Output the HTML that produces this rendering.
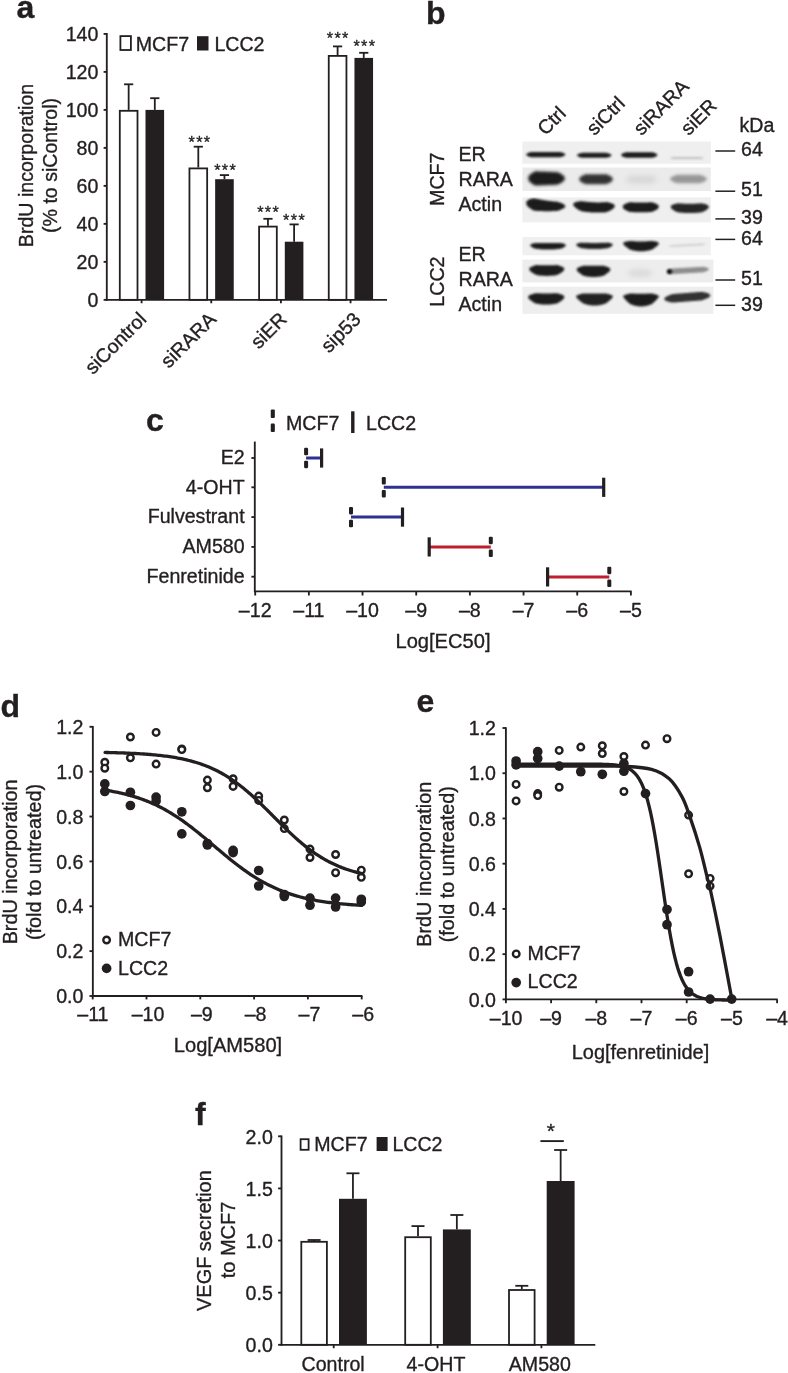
<!DOCTYPE html>
<html><head><meta charset="utf-8"><title>Figure</title>
<style>
html,body{margin:0;padding:0;background:#fff;}
body{width:788px;height:1373px;overflow:hidden;}
svg{display:block;will-change:transform;opacity:0.999;}
svg text{font-family:"Liberation Sans",sans-serif;fill:#231f20;stroke:#231f20;stroke-width:0.35px;stroke-linejoin:round;}
</style></head><body>
<svg width="788" height="1373" viewBox="0 0 788 1373">
<rect width="788" height="1373" fill="#ffffff"/>
<g id="pa">
<text x="16.50" y="18.00" font-size="32" text-anchor="start" font-weight="bold" >a</text>
<line x1="106.80" y1="33.10" x2="106.80" y2="300.65" stroke="#231f20" stroke-width="1.85" stroke-linecap="butt" />
<line x1="106.00" y1="299.85" x2="387.00" y2="299.85" stroke="#231f20" stroke-width="1.85" stroke-linecap="butt" />
<line x1="103.60" y1="299.85" x2="106.80" y2="299.85" stroke="#231f20" stroke-width="1.85" stroke-linecap="butt" />
<text x="98.40" y="306.85" font-size="19.6" text-anchor="end" >0</text>
<line x1="103.60" y1="261.86" x2="106.80" y2="261.86" stroke="#231f20" stroke-width="1.85" stroke-linecap="butt" />
<text x="98.40" y="268.86" font-size="19.6" text-anchor="end" >20</text>
<line x1="103.60" y1="223.86" x2="106.80" y2="223.86" stroke="#231f20" stroke-width="1.85" stroke-linecap="butt" />
<text x="98.40" y="230.86" font-size="19.6" text-anchor="end" >40</text>
<line x1="103.60" y1="185.87" x2="106.80" y2="185.87" stroke="#231f20" stroke-width="1.85" stroke-linecap="butt" />
<text x="98.40" y="192.87" font-size="19.6" text-anchor="end" >60</text>
<line x1="103.60" y1="147.88" x2="106.80" y2="147.88" stroke="#231f20" stroke-width="1.85" stroke-linecap="butt" />
<text x="98.40" y="154.88" font-size="19.6" text-anchor="end" >80</text>
<line x1="103.60" y1="109.89" x2="106.80" y2="109.89" stroke="#231f20" stroke-width="1.85" stroke-linecap="butt" />
<text x="98.40" y="116.89" font-size="19.6" text-anchor="end" >100</text>
<line x1="103.60" y1="71.89" x2="106.80" y2="71.89" stroke="#231f20" stroke-width="1.85" stroke-linecap="butt" />
<text x="98.40" y="78.89" font-size="19.6" text-anchor="end" >120</text>
<line x1="103.60" y1="33.90" x2="106.80" y2="33.90" stroke="#231f20" stroke-width="1.85" stroke-linecap="butt" />
<text x="98.40" y="40.90" font-size="19.6" text-anchor="end" >140</text>
<line x1="141.60" y1="299.85" x2="141.60" y2="303.25" stroke="#231f20" stroke-width="1.85" stroke-linecap="butt" />
<line x1="211.25" y1="299.85" x2="211.25" y2="303.25" stroke="#231f20" stroke-width="1.85" stroke-linecap="butt" />
<line x1="280.90" y1="299.85" x2="280.90" y2="303.25" stroke="#231f20" stroke-width="1.85" stroke-linecap="butt" />
<line x1="350.55" y1="299.85" x2="350.55" y2="303.25" stroke="#231f20" stroke-width="1.85" stroke-linecap="butt" />
<line x1="128.65" y1="84.30" x2="128.65" y2="109.90" stroke="#231f20" stroke-width="1.8" stroke-linecap="butt" />
<line x1="124.05" y1="84.30" x2="133.25" y2="84.30" stroke="#231f20" stroke-width="1.8" stroke-linecap="butt" />
<line x1="154.80" y1="98.20" x2="154.80" y2="109.90" stroke="#231f20" stroke-width="1.8" stroke-linecap="butt" />
<line x1="150.20" y1="98.20" x2="159.40" y2="98.20" stroke="#231f20" stroke-width="1.8" stroke-linecap="butt" />
<rect x="119.80" y="110.80" width="17.70" height="189.05" fill="white" stroke="#231f20" stroke-width="1.8" />
<rect x="145.50" y="109.90" width="18.60" height="189.95" fill="#231f20" />
<line x1="198.30" y1="146.70" x2="198.30" y2="167.50" stroke="#231f20" stroke-width="1.8" stroke-linecap="butt" />
<line x1="193.70" y1="146.70" x2="202.90" y2="146.70" stroke="#231f20" stroke-width="1.8" stroke-linecap="butt" />
<line x1="224.45" y1="175.10" x2="224.45" y2="179.20" stroke="#231f20" stroke-width="1.8" stroke-linecap="butt" />
<line x1="219.85" y1="175.10" x2="229.05" y2="175.10" stroke="#231f20" stroke-width="1.8" stroke-linecap="butt" />
<rect x="189.45" y="168.40" width="17.70" height="131.45" fill="white" stroke="#231f20" stroke-width="1.8" />
<rect x="215.15" y="179.20" width="18.60" height="120.65" fill="#231f20" />
<line x1="267.95" y1="218.80" x2="267.95" y2="225.70" stroke="#231f20" stroke-width="1.8" stroke-linecap="butt" />
<line x1="263.35" y1="218.80" x2="272.55" y2="218.80" stroke="#231f20" stroke-width="1.8" stroke-linecap="butt" />
<line x1="294.10" y1="224.40" x2="294.10" y2="241.70" stroke="#231f20" stroke-width="1.8" stroke-linecap="butt" />
<line x1="289.50" y1="224.40" x2="298.70" y2="224.40" stroke="#231f20" stroke-width="1.8" stroke-linecap="butt" />
<rect x="259.10" y="226.60" width="17.70" height="73.25" fill="white" stroke="#231f20" stroke-width="1.8" />
<rect x="284.80" y="241.70" width="18.60" height="58.15" fill="#231f20" />
<line x1="337.60" y1="46.40" x2="337.60" y2="55.00" stroke="#231f20" stroke-width="1.8" stroke-linecap="butt" />
<line x1="333.00" y1="46.40" x2="342.20" y2="46.40" stroke="#231f20" stroke-width="1.8" stroke-linecap="butt" />
<line x1="363.75" y1="52.80" x2="363.75" y2="57.90" stroke="#231f20" stroke-width="1.8" stroke-linecap="butt" />
<line x1="359.15" y1="52.80" x2="368.35" y2="52.80" stroke="#231f20" stroke-width="1.8" stroke-linecap="butt" />
<rect x="328.75" y="55.90" width="17.70" height="243.95" fill="white" stroke="#231f20" stroke-width="1.8" />
<rect x="354.45" y="57.90" width="18.60" height="241.95" fill="#231f20" />
<text x="200.00" y="147.60" font-size="16.2" text-anchor="middle" letter-spacing="1.35">***</text>
<text x="225.70" y="175.70" font-size="16.2" text-anchor="middle" letter-spacing="1.35">***</text>
<text x="268.70" y="218.30" font-size="16.2" text-anchor="middle" letter-spacing="1.35">***</text>
<text x="294.60" y="226.10" font-size="16.2" text-anchor="middle" letter-spacing="1.35">***</text>
<text x="338.30" y="43.80" font-size="16.2" text-anchor="middle" letter-spacing="1.35">***</text>
<text x="364.90" y="52.40" font-size="16.2" text-anchor="middle" letter-spacing="1.35">***</text>
<rect x="120.40" y="36.10" width="10.50" height="13.90" fill="white" stroke="#231f20" stroke-width="1.8" />
<text x="135.80" y="50.80" font-size="19.6" text-anchor="start" >MCF7</text>
<rect x="197.00" y="36.20" width="11.50" height="14.30" fill="#231f20" />
<text x="214.40" y="50.80" font-size="19.6" text-anchor="start" >LCC2</text>
<text x="32.50" y="165.50" font-size="19.6" text-anchor="middle" transform="rotate(-90 32.50 165.50)" >BrdU incorporation</text>
<text x="56.60" y="165.50" font-size="19.6" text-anchor="middle" transform="rotate(-90 56.60 165.50)" >(% to siControl)</text>
<text x="147.60" y="320.50" font-size="19.6" text-anchor="end" transform="rotate(-45 147.60 320.50)" >siControl</text>
<text x="217.25" y="320.50" font-size="19.6" text-anchor="end" transform="rotate(-45 217.25 320.50)" >siRARA</text>
<text x="287.90" y="320.50" font-size="19.6" text-anchor="end" transform="rotate(-45 287.90 320.50)" >siER</text>
<text x="362.05" y="320.50" font-size="19.6" text-anchor="end" transform="rotate(-45 362.05 320.50)" >sip53</text>
</g>
<g id="pb">
<text x="426.00" y="24.00" font-size="32" text-anchor="start" font-weight="bold" >b</text>
<defs><filter id="b1" filterUnits="userSpaceOnUse" x="510" y="130" width="215" height="195"><feGaussianBlur stdDeviation="1.1"/></filter><filter id="b2" filterUnits="userSpaceOnUse" x="510" y="130" width="215" height="195"><feGaussianBlur stdDeviation="1.8"/></filter><filter id="b3" filterUnits="userSpaceOnUse" x="510" y="130" width="215" height="195"><feGaussianBlur stdDeviation="2.6"/></filter></defs>
<rect x="522.40" y="141.50" width="188.40" height="22.30" fill="#efefef" />
<rect x="522.40" y="167.50" width="188.40" height="23.50" fill="#ebebeb" />
<rect x="522.40" y="197.30" width="188.40" height="25.10" fill="#efefef" />
<rect x="522.40" y="237.00" width="188.40" height="18.30" fill="#f0f0f0" />
<rect x="522.40" y="259.60" width="191.00" height="22.80" fill="#ededed" />
<rect x="522.40" y="286.70" width="191.00" height="27.10" fill="#eeeeee" />
<clipPath id="cb"><rect x="522.4" y="141.5" width="191.0" height="22.30000000000001"/><rect x="522.4" y="167.5" width="191.0" height="23.5"/><rect x="522.4" y="197.3" width="191.0" height="25.099999999999994"/><rect x="522.4" y="237.0" width="191.0" height="18.30000000000001"/><rect x="522.4" y="259.6" width="191.0" height="22.799999999999955"/><rect x="522.4" y="286.7" width="191.0" height="27.100000000000023"/></clipPath>
<g clip-path="url(#cb)">
<path d="M526.0 154.6 L527.1 153.4 L528.2 152.9 L529.3 152.5 L530.4 152.2 L531.5 151.9 L532.6 151.9 L533.7 151.9 L534.8 151.9 L535.9 151.9 L537.0 151.9 L538.1 151.9 L539.2 151.9 L540.3 151.9 L541.4 151.9 L542.5 151.9 L543.6 151.9 L544.7 151.9 L545.8 151.9 L546.8 151.9 L547.9 151.9 L549.0 151.9 L550.1 151.9 L551.2 151.9 L552.3 151.9 L553.4 151.9 L554.5 151.9 L555.6 151.9 L556.7 151.9 L557.8 151.9 L558.9 151.9 L560.0 151.9 L561.1 152.2 L562.2 152.5 L563.3 152.9 L564.4 153.4 L565.5 154.6 L565.5 154.6 L564.4 155.8 L563.3 156.3 L562.2 156.7 L561.1 157.0 L560.0 157.3 L558.9 157.3 L557.8 157.3 L556.7 157.3 L555.6 157.3 L554.5 157.3 L553.4 157.3 L552.3 157.3 L551.2 157.3 L550.1 157.3 L549.0 157.3 L547.9 157.3 L546.8 157.3 L545.8 157.3 L544.7 157.3 L543.6 157.3 L542.5 157.3 L541.4 157.3 L540.3 157.3 L539.2 157.3 L538.1 157.3 L537.0 157.3 L535.9 157.3 L534.8 157.3 L533.7 157.3 L532.6 157.3 L531.5 157.3 L530.4 157.0 L529.3 156.7 L528.2 156.3 L527.1 155.8 L526.0 154.6Z" fill="#1c1c1c" filter="url(#b1)" opacity="1.0"/>
<path d="M577.0 155.3 L578.0 154.2 L578.9 153.8 L579.9 153.4 L580.8 153.1 L581.8 152.9 L582.8 152.8 L583.7 152.8 L584.7 152.8 L585.6 152.8 L586.6 152.8 L587.5 152.8 L588.5 152.8 L589.5 152.8 L590.4 152.8 L591.4 152.8 L592.3 152.8 L593.3 152.8 L594.2 152.8 L595.2 152.8 L596.2 152.8 L597.1 152.8 L598.1 152.8 L599.0 152.8 L600.0 152.8 L601.0 152.8 L601.9 152.8 L602.9 152.8 L603.8 152.8 L604.8 152.8 L605.8 152.8 L606.7 152.9 L607.7 153.1 L608.6 153.4 L609.6 153.8 L610.5 154.2 L611.5 155.3 L611.5 155.3 L610.5 156.4 L609.6 156.8 L608.6 157.2 L607.7 157.5 L606.7 157.7 L605.8 157.8 L604.8 157.8 L603.8 157.8 L602.9 157.8 L601.9 157.8 L601.0 157.8 L600.0 157.8 L599.0 157.8 L598.1 157.8 L597.1 157.8 L596.2 157.8 L595.2 157.8 L594.2 157.8 L593.3 157.8 L592.3 157.8 L591.4 157.8 L590.4 157.8 L589.5 157.8 L588.5 157.8 L587.5 157.8 L586.6 157.8 L585.6 157.8 L584.7 157.8 L583.7 157.8 L582.8 157.8 L581.8 157.7 L580.8 157.5 L579.9 157.2 L578.9 156.8 L578.0 156.4 L577.0 155.3Z" fill="#1c1c1c" filter="url(#b1)" opacity="1.0"/>
<path d="M621.0 155.0 L622.0 153.8 L623.0 153.3 L624.0 152.9 L625.1 152.6 L626.1 152.3 L627.1 152.2 L628.1 152.2 L629.1 152.2 L630.1 152.2 L631.1 152.2 L632.2 152.2 L633.2 152.2 L634.2 152.2 L635.2 152.2 L636.2 152.2 L637.2 152.2 L638.2 152.2 L639.2 152.2 L640.3 152.2 L641.3 152.2 L642.3 152.2 L643.3 152.2 L644.3 152.2 L645.3 152.2 L646.3 152.2 L647.4 152.2 L648.4 152.2 L649.4 152.2 L650.4 152.2 L651.4 152.2 L652.4 152.3 L653.4 152.6 L654.5 152.9 L655.5 153.3 L656.5 153.8 L657.5 155.0 L657.5 155.0 L656.5 156.2 L655.5 156.7 L654.5 157.1 L653.4 157.4 L652.4 157.7 L651.4 157.8 L650.4 157.8 L649.4 157.8 L648.4 157.8 L647.4 157.8 L646.3 157.8 L645.3 157.8 L644.3 157.8 L643.3 157.8 L642.3 157.8 L641.3 157.8 L640.3 157.8 L639.2 157.8 L638.2 157.8 L637.2 157.8 L636.2 157.8 L635.2 157.8 L634.2 157.8 L633.2 157.8 L632.2 157.8 L631.1 157.8 L630.1 157.8 L629.1 157.8 L628.1 157.8 L627.1 157.8 L626.1 157.7 L625.1 157.4 L624.0 157.1 L623.0 156.7 L622.0 156.2 L621.0 155.0Z" fill="#1c1c1c" filter="url(#b1)" opacity="1.0"/>
<path d="M670.0 158.0 L670.9 157.5 L671.9 157.3 L672.8 157.2 L673.8 157.0 L674.7 156.9 L675.7 156.9 L676.6 156.9 L677.6 156.9 L678.5 156.9 L679.4 156.9 L680.4 156.9 L681.3 156.9 L682.3 156.9 L683.2 156.9 L684.2 156.9 L685.1 156.9 L686.1 156.9 L687.0 156.9 L687.9 156.9 L688.9 156.9 L689.8 156.9 L690.8 156.9 L691.7 156.9 L692.7 156.9 L693.6 156.9 L694.6 156.9 L695.5 156.9 L696.4 156.9 L697.4 156.9 L698.3 156.9 L699.3 156.9 L700.2 157.0 L701.2 157.2 L702.1 157.3 L703.1 157.5 L704.0 158.0 L704.0 158.0 L703.1 158.5 L702.1 158.7 L701.2 158.8 L700.2 159.0 L699.3 159.1 L698.3 159.1 L697.4 159.1 L696.4 159.1 L695.5 159.1 L694.6 159.1 L693.6 159.1 L692.7 159.1 L691.7 159.1 L690.8 159.1 L689.8 159.1 L688.9 159.1 L687.9 159.1 L687.0 159.1 L686.1 159.1 L685.1 159.1 L684.2 159.1 L683.2 159.1 L682.3 159.1 L681.3 159.1 L680.4 159.1 L679.4 159.1 L678.5 159.1 L677.6 159.1 L676.6 159.1 L675.7 159.1 L674.7 159.1 L673.8 159.0 L672.8 158.8 L671.9 158.7 L670.9 158.5 L670.0 158.0Z" fill="#9a9a9a" filter="url(#b1)" opacity="0.55"/>
<path d="M528.0 178.4 L529.0 175.6 L530.1 174.5 L531.1 173.7 L532.1 173.0 L533.1 172.4 L534.2 171.8 L535.2 171.3 L536.2 171.3 L537.2 171.3 L538.3 171.3 L539.3 171.4 L540.3 171.4 L541.4 171.5 L542.4 171.5 L543.4 171.5 L544.4 171.6 L545.5 171.6 L546.5 171.7 L547.5 171.7 L548.6 171.7 L549.6 171.8 L550.6 171.8 L551.6 171.8 L552.7 171.9 L553.7 171.9 L554.7 172.0 L555.8 172.0 L556.8 172.0 L557.8 172.2 L558.8 172.6 L559.9 173.2 L560.9 173.8 L561.9 174.4 L562.9 175.2 L564.0 176.1 L565.0 178.4 L565.0 178.4 L564.0 180.7 L562.9 181.6 L561.9 182.4 L560.9 183.0 L559.9 183.6 L558.8 184.2 L557.8 184.6 L556.8 184.8 L555.8 184.8 L554.7 184.8 L553.7 184.9 L552.7 184.9 L551.6 185.0 L550.6 185.0 L549.6 185.0 L548.6 185.1 L547.5 185.1 L546.5 185.2 L545.5 185.2 L544.4 185.2 L543.4 185.3 L542.4 185.3 L541.4 185.3 L540.3 185.4 L539.3 185.4 L538.3 185.5 L537.2 185.5 L536.2 185.5 L535.2 185.5 L534.2 185.0 L533.1 184.4 L532.1 183.8 L531.1 183.1 L530.1 182.3 L529.0 181.2 L528.0 178.4Z" fill="#1e1e1e" filter="url(#b2)" opacity="1.0"/>
<path d="M579.0 179.2 L579.9 177.3 L580.9 176.6 L581.8 176.0 L582.8 175.5 L583.7 175.0 L584.7 174.6 L585.6 174.3 L586.6 174.2 L587.5 174.2 L588.4 174.2 L589.4 174.2 L590.3 174.2 L591.3 174.2 L592.2 174.2 L593.2 174.2 L594.1 174.2 L595.1 174.2 L596.0 174.2 L596.9 174.2 L597.9 174.2 L598.8 174.2 L599.8 174.2 L600.7 174.2 L601.7 174.2 L602.6 174.2 L603.6 174.2 L604.5 174.2 L605.4 174.2 L606.4 174.3 L607.3 174.6 L608.3 175.0 L609.2 175.5 L610.2 176.0 L611.1 176.6 L612.1 177.3 L613.0 179.2 L613.0 179.2 L612.1 181.1 L611.1 181.8 L610.2 182.4 L609.2 182.9 L608.3 183.4 L607.3 183.8 L606.4 184.1 L605.4 184.2 L604.5 184.2 L603.6 184.2 L602.6 184.2 L601.7 184.2 L600.7 184.2 L599.8 184.2 L598.8 184.2 L597.9 184.2 L596.9 184.2 L596.0 184.2 L595.1 184.2 L594.1 184.2 L593.2 184.2 L592.2 184.2 L591.3 184.2 L590.3 184.2 L589.4 184.2 L588.4 184.2 L587.5 184.2 L586.6 184.2 L585.6 184.1 L584.7 183.8 L583.7 183.4 L582.8 182.9 L581.8 182.4 L580.9 181.8 L579.9 181.1 L579.0 179.2Z" fill="#333" filter="url(#b2)" opacity="1.0"/>
<path d="M626.0 179.5 L626.9 178.0 L627.7 177.4 L628.6 176.9 L629.4 176.5 L630.3 176.2 L631.2 175.8 L632.0 175.6 L632.9 175.5 L633.8 175.5 L634.6 175.5 L635.5 175.5 L636.3 175.5 L637.2 175.5 L638.1 175.5 L638.9 175.5 L639.8 175.5 L640.6 175.5 L641.5 175.5 L642.4 175.5 L643.2 175.5 L644.1 175.5 L644.9 175.5 L645.8 175.5 L646.7 175.5 L647.5 175.5 L648.4 175.5 L649.2 175.5 L650.1 175.5 L651.0 175.6 L651.8 175.8 L652.7 176.2 L653.6 176.5 L654.4 176.9 L655.3 177.4 L656.1 178.0 L657.0 179.5 L657.0 179.5 L656.1 181.0 L655.3 181.6 L654.4 182.1 L653.6 182.5 L652.7 182.8 L651.8 183.2 L651.0 183.4 L650.1 183.5 L649.2 183.5 L648.4 183.5 L647.5 183.5 L646.7 183.5 L645.8 183.5 L644.9 183.5 L644.1 183.5 L643.2 183.5 L642.4 183.5 L641.5 183.5 L640.6 183.5 L639.8 183.5 L638.9 183.5 L638.1 183.5 L637.2 183.5 L636.3 183.5 L635.5 183.5 L634.6 183.5 L633.8 183.5 L632.9 183.5 L632.0 183.4 L631.2 183.2 L630.3 182.8 L629.4 182.5 L628.6 182.1 L627.7 181.6 L626.9 181.0 L626.0 179.5Z" fill="#cfcfcf" filter="url(#b3)" opacity="0.7"/>
<path d="M670.0 179.0 L671.0 177.4 L672.1 176.8 L673.1 176.3 L674.1 175.8 L675.1 175.5 L676.2 175.1 L677.2 174.8 L678.2 174.8 L679.2 174.8 L680.3 174.8 L681.3 174.8 L682.3 174.8 L683.4 174.8 L684.4 174.8 L685.4 174.8 L686.4 174.8 L687.5 174.8 L688.5 174.8 L689.5 174.8 L690.6 174.8 L691.6 174.8 L692.6 174.8 L693.6 174.8 L694.7 174.8 L695.7 174.8 L696.7 174.8 L697.8 174.8 L698.8 174.8 L699.8 174.8 L700.8 175.1 L701.9 175.5 L702.9 175.8 L703.9 176.3 L704.9 176.8 L706.0 177.4 L707.0 179.0 L707.0 179.0 L706.0 180.6 L704.9 181.2 L703.9 181.7 L702.9 182.2 L701.9 182.5 L700.8 182.9 L699.8 183.2 L698.8 183.2 L697.8 183.2 L696.7 183.2 L695.7 183.2 L694.7 183.2 L693.6 183.2 L692.6 183.2 L691.6 183.2 L690.6 183.2 L689.5 183.2 L688.5 183.2 L687.5 183.2 L686.4 183.2 L685.4 183.2 L684.4 183.2 L683.4 183.2 L682.3 183.2 L681.3 183.2 L680.3 183.2 L679.2 183.2 L678.2 183.2 L677.2 183.2 L676.2 182.9 L675.1 182.5 L674.1 182.2 L673.1 181.7 L672.1 181.2 L671.0 180.6 L670.0 179.0Z" fill="#7c7c7c" filter="url(#b2)" opacity="0.75"/>
<path d="M526.0 203.0 L527.1 200.7 L528.2 200.0 L529.3 199.4 L530.4 199.0 L531.5 198.7 L532.6 198.4 L533.7 198.2 L534.8 198.4 L535.9 198.6 L537.0 198.9 L538.1 199.1 L539.2 199.3 L540.3 199.5 L541.4 199.7 L542.5 199.9 L543.6 200.1 L544.7 200.2 L545.8 200.4 L546.8 200.6 L547.9 200.7 L549.0 200.9 L550.1 201.0 L551.2 201.1 L552.3 201.2 L553.4 201.4 L554.5 201.5 L555.6 201.6 L556.7 201.7 L557.8 201.8 L558.9 202.2 L560.0 202.6 L561.1 203.1 L562.2 203.5 L563.3 204.1 L564.4 204.7 L565.5 206.2 L565.5 206.2 L564.4 207.8 L563.3 208.5 L562.2 209.1 L561.1 209.6 L560.0 210.0 L558.9 210.4 L557.8 210.8 L556.7 211.0 L555.6 211.0 L554.5 211.1 L553.4 211.1 L552.3 211.1 L551.2 211.2 L550.1 211.2 L549.0 211.2 L547.9 211.2 L546.8 211.2 L545.8 211.2 L544.7 211.2 L543.6 211.2 L542.5 211.1 L541.4 211.1 L540.3 211.0 L539.2 211.0 L538.1 210.9 L537.0 210.9 L535.9 210.8 L534.8 210.7 L533.7 210.5 L532.6 210.0 L531.5 209.3 L530.4 208.6 L529.3 207.8 L528.2 206.9 L527.1 205.7 L526.0 203.0Z" fill="#1e1e1e" filter="url(#b1)" opacity="1.0"/>
<path d="M573.0 204.4 L574.2 202.8 L575.3 202.3 L576.5 201.9 L577.7 201.6 L578.8 201.4 L580.0 201.2 L581.2 201.1 L582.3 201.2 L583.5 201.4 L584.7 201.5 L585.8 201.7 L587.0 201.8 L588.2 201.9 L589.3 202.0 L590.5 202.1 L591.7 202.2 L592.8 202.2 L594.0 202.3 L595.2 202.3 L596.3 202.4 L597.5 202.4 L598.7 202.4 L599.8 202.4 L601.0 202.3 L602.2 202.3 L603.3 202.2 L604.5 202.2 L605.7 202.1 L606.8 202.0 L608.0 202.3 L609.2 202.6 L610.3 202.9 L611.5 203.2 L612.7 203.7 L613.8 204.3 L615.0 206.0 L615.0 206.0 L613.8 208.1 L612.7 209.1 L611.5 209.8 L610.3 210.5 L609.2 211.1 L608.0 211.6 L606.8 212.1 L605.7 212.3 L604.5 212.4 L603.3 212.4 L602.2 212.5 L601.0 212.5 L599.8 212.6 L598.7 212.6 L597.5 212.6 L596.3 212.6 L595.2 212.5 L594.0 212.5 L592.8 212.4 L591.7 212.4 L590.5 212.3 L589.3 212.2 L588.2 212.1 L587.0 212.0 L585.8 211.9 L584.7 211.7 L583.5 211.6 L582.3 211.4 L581.2 211.1 L580.0 210.5 L578.8 209.9 L577.7 209.2 L576.5 208.5 L575.3 207.6 L574.2 206.6 L573.0 204.4Z" fill="#1e1e1e" filter="url(#b1)" opacity="1.0"/>
<path d="M622.5 206.6 L623.5 204.9 L624.5 204.2 L625.5 203.7 L626.6 203.3 L627.6 202.9 L628.6 202.6 L629.6 202.3 L630.6 202.3 L631.6 202.3 L632.6 202.3 L633.7 202.4 L634.7 202.4 L635.7 202.4 L636.7 202.5 L637.7 202.5 L638.7 202.5 L639.7 202.5 L640.8 202.5 L641.8 202.5 L642.8 202.5 L643.8 202.5 L644.8 202.5 L645.8 202.4 L646.8 202.4 L647.8 202.4 L648.9 202.3 L649.9 202.3 L650.9 202.3 L651.9 202.3 L652.9 202.6 L653.9 202.9 L654.9 203.3 L656.0 203.7 L657.0 204.2 L658.0 204.9 L659.0 206.6 L659.0 206.6 L658.0 208.5 L657.0 209.4 L656.0 210.0 L654.9 210.6 L653.9 211.1 L652.9 211.5 L651.9 211.9 L650.9 212.1 L649.9 212.1 L648.9 212.1 L647.8 212.2 L646.8 212.2 L645.8 212.2 L644.8 212.3 L643.8 212.3 L642.8 212.3 L641.8 212.3 L640.8 212.3 L639.7 212.3 L638.7 212.3 L637.7 212.3 L636.7 212.3 L635.7 212.2 L634.7 212.2 L633.7 212.2 L632.6 212.1 L631.6 212.1 L630.6 212.1 L629.6 211.9 L628.6 211.5 L627.6 211.1 L626.6 210.6 L625.5 210.0 L624.5 209.4 L623.5 208.5 L622.5 206.6Z" fill="#1e1e1e" filter="url(#b1)" opacity="1.0"/>
<path d="M670.5 206.8 L671.6 205.3 L672.6 204.7 L673.7 204.3 L674.8 204.0 L675.8 203.7 L676.9 203.5 L678.0 203.3 L679.1 203.3 L680.1 203.4 L681.2 203.5 L682.3 203.6 L683.3 203.6 L684.4 203.7 L685.5 203.7 L686.5 203.8 L687.6 203.8 L688.7 203.8 L689.8 203.8 L690.8 203.8 L691.9 203.8 L693.0 203.8 L694.0 203.7 L695.1 203.7 L696.2 203.6 L697.2 203.6 L698.3 203.5 L699.4 203.4 L700.4 203.3 L701.5 203.3 L702.6 203.5 L703.7 203.7 L704.7 204.0 L705.8 204.3 L706.9 204.7 L707.9 205.3 L709.0 206.8 L709.0 206.8 L707.9 208.7 L706.9 209.6 L705.8 210.3 L704.7 210.9 L703.7 211.4 L702.6 211.9 L701.5 212.3 L700.4 212.5 L699.4 212.6 L698.3 212.7 L697.2 212.8 L696.2 212.8 L695.1 212.9 L694.0 212.9 L693.0 213.0 L691.9 213.0 L690.8 213.0 L689.8 213.0 L688.7 213.0 L687.6 213.0 L686.5 213.0 L685.5 212.9 L684.4 212.9 L683.3 212.8 L682.3 212.8 L681.2 212.7 L680.1 212.6 L679.1 212.5 L678.0 212.3 L676.9 211.9 L675.8 211.4 L674.8 210.9 L673.7 210.3 L672.6 209.6 L671.6 208.7 L670.5 206.8Z" fill="#262626" filter="url(#b1)" opacity="1.0"/>
<path d="M530.0 245.3 L531.0 244.3 L532.0 243.8 L533.0 243.5 L534.0 243.2 L535.0 242.9 L536.0 242.9 L537.0 243.0 L538.0 243.0 L539.0 243.0 L540.0 243.0 L541.0 243.0 L542.0 243.0 L543.0 243.0 L544.0 243.0 L545.0 243.0 L546.0 243.0 L547.0 243.0 L548.0 243.1 L549.0 243.0 L550.0 243.0 L551.0 243.0 L552.0 243.0 L553.0 243.0 L554.0 243.0 L555.0 243.0 L556.0 243.0 L557.0 243.0 L558.0 243.0 L559.0 243.0 L560.0 242.9 L561.0 242.9 L562.0 243.2 L563.0 243.5 L564.0 243.8 L565.0 244.3 L566.0 245.3 L566.0 245.3 L565.0 246.6 L564.0 247.2 L563.0 247.7 L562.0 248.2 L561.0 248.6 L560.0 248.8 L559.0 248.9 L558.0 249.0 L557.0 249.1 L556.0 249.2 L555.0 249.3 L554.0 249.4 L553.0 249.4 L552.0 249.5 L551.0 249.5 L550.0 249.5 L549.0 249.5 L548.0 249.6 L547.0 249.5 L546.0 249.5 L545.0 249.5 L544.0 249.5 L543.0 249.4 L542.0 249.4 L541.0 249.3 L540.0 249.2 L539.0 249.1 L538.0 249.0 L537.0 248.9 L536.0 248.8 L535.0 248.6 L534.0 248.2 L533.0 247.7 L532.0 247.2 L531.0 246.6 L530.0 245.3Z" fill="#1e1e1e" filter="url(#b1)" opacity="1.0"/>
<path d="M576.0 244.8 L577.0 243.8 L578.1 243.4 L579.1 243.1 L580.1 242.8 L581.1 242.6 L582.2 242.7 L583.2 242.7 L584.2 242.7 L585.2 242.8 L586.3 242.8 L587.3 242.8 L588.3 242.8 L589.4 242.8 L590.4 242.9 L591.4 242.9 L592.4 242.9 L593.5 242.9 L594.5 242.9 L595.5 242.9 L596.6 242.9 L597.6 242.9 L598.6 242.9 L599.6 242.8 L600.7 242.8 L601.7 242.8 L602.7 242.8 L603.8 242.8 L604.8 242.7 L605.8 242.7 L606.8 242.7 L607.9 242.6 L608.9 242.8 L609.9 243.1 L610.9 243.4 L612.0 243.8 L613.0 244.8 L613.0 244.8 L612.0 246.1 L610.9 246.7 L609.9 247.2 L608.9 247.7 L607.9 248.1 L606.8 248.3 L605.8 248.4 L604.8 248.5 L603.8 248.6 L602.7 248.7 L601.7 248.8 L600.7 248.9 L599.6 249.0 L598.6 249.0 L597.6 249.1 L596.6 249.1 L595.5 249.1 L594.5 249.1 L593.5 249.1 L592.4 249.1 L591.4 249.1 L590.4 249.0 L589.4 249.0 L588.3 248.9 L587.3 248.8 L586.3 248.7 L585.2 248.6 L584.2 248.5 L583.2 248.4 L582.2 248.3 L581.1 248.1 L580.1 247.7 L579.1 247.2 L578.1 246.7 L577.0 246.1 L576.0 244.8Z" fill="#222" filter="url(#b1)" opacity="1.0"/>
<path d="M623.0 243.2 L624.0 242.2 L625.0 241.9 L626.0 241.6 L627.0 241.4 L628.0 241.2 L629.0 241.0 L630.0 240.9 L631.0 241.0 L632.0 241.1 L633.0 241.1 L634.0 241.2 L635.0 241.3 L636.0 241.3 L637.0 241.4 L638.0 241.4 L639.0 241.4 L640.0 241.4 L641.0 241.5 L642.0 241.4 L643.0 241.4 L644.0 241.4 L645.0 241.4 L646.0 241.3 L647.0 241.3 L648.0 241.2 L649.0 241.1 L650.0 241.1 L651.0 241.0 L652.0 240.9 L653.0 241.0 L654.0 241.2 L655.0 241.4 L656.0 241.6 L657.0 241.9 L658.0 242.2 L659.0 243.2 L659.0 243.2 L658.0 244.9 L657.0 245.9 L656.0 246.7 L655.0 247.5 L654.0 248.3 L653.0 249.0 L652.0 249.5 L651.0 249.9 L650.0 250.1 L649.0 250.4 L648.0 250.6 L647.0 250.8 L646.0 251.0 L645.0 251.1 L644.0 251.2 L643.0 251.3 L642.0 251.3 L641.0 251.3 L640.0 251.3 L639.0 251.3 L638.0 251.2 L637.0 251.1 L636.0 251.0 L635.0 250.8 L634.0 250.6 L633.0 250.4 L632.0 250.1 L631.0 249.9 L630.0 249.5 L629.0 249.0 L628.0 248.3 L627.0 247.5 L626.0 246.7 L625.0 245.9 L624.0 244.9 L623.0 243.2Z" fill="#1a1a1a" filter="url(#b1)" opacity="1.0"/>
<path d="M668.0 246.2 L669.1 245.7 L670.1 245.5 L671.2 245.3 L672.2 245.2 L673.3 245.0 L674.3 245.0 L675.4 244.9 L676.4 244.9 L677.5 244.8 L678.6 244.7 L679.6 244.7 L680.7 244.6 L681.7 244.6 L682.8 244.5 L683.8 244.5 L684.9 244.4 L685.9 244.4 L687.0 244.3 L688.1 244.2 L689.1 244.2 L690.2 244.1 L691.2 244.1 L692.3 244.0 L693.3 244.0 L694.4 243.9 L695.4 243.9 L696.5 243.8 L697.6 243.7 L698.6 243.7 L699.7 243.6 L700.7 243.6 L701.8 243.6 L702.8 243.7 L703.9 243.7 L704.9 243.8 L706.0 244.2 L706.0 244.2 L704.9 244.7 L703.9 244.9 L702.8 245.1 L701.8 245.2 L700.7 245.4 L699.7 245.4 L698.6 245.5 L697.6 245.5 L696.5 245.6 L695.4 245.7 L694.4 245.7 L693.3 245.8 L692.3 245.8 L691.2 245.9 L690.2 245.9 L689.1 246.0 L688.1 246.0 L687.0 246.1 L685.9 246.2 L684.9 246.2 L683.8 246.3 L682.8 246.3 L681.7 246.4 L680.7 246.4 L679.6 246.5 L678.6 246.5 L677.5 246.6 L676.4 246.7 L675.4 246.7 L674.3 246.8 L673.3 246.8 L672.2 246.8 L671.2 246.7 L670.1 246.7 L669.1 246.6 L668.0 246.2Z" fill="#aaaaaa" filter="url(#b1)" opacity="0.5"/>
<path d="M529.0 269.1 L530.0 267.6 L531.0 267.0 L532.0 266.6 L532.9 266.2 L533.9 265.8 L534.9 265.5 L535.9 265.1 L536.9 265.1 L537.9 265.1 L538.9 265.2 L539.8 265.2 L540.8 265.2 L541.8 265.2 L542.8 265.2 L543.8 265.2 L544.8 265.2 L545.8 265.2 L546.8 265.2 L547.7 265.2 L548.7 265.2 L549.7 265.2 L550.7 265.2 L551.7 265.2 L552.7 265.2 L553.7 265.2 L554.6 265.2 L555.6 265.1 L556.6 265.1 L557.6 265.1 L558.6 265.5 L559.6 265.8 L560.6 266.2 L561.5 266.6 L562.5 267.0 L563.5 267.6 L564.5 269.1 L564.5 269.1 L563.5 270.8 L562.5 271.7 L561.5 272.5 L560.6 273.1 L559.6 273.7 L558.6 274.3 L557.6 274.8 L556.6 275.1 L555.6 275.2 L554.6 275.4 L553.7 275.5 L552.7 275.6 L551.7 275.7 L550.7 275.7 L549.7 275.8 L548.7 275.8 L547.7 275.9 L546.8 275.9 L545.8 275.9 L544.8 275.8 L543.8 275.8 L542.8 275.7 L541.8 275.7 L540.8 275.6 L539.8 275.5 L538.9 275.4 L537.9 275.2 L536.9 275.1 L535.9 274.8 L534.9 274.3 L533.9 273.7 L532.9 273.1 L532.0 272.5 L531.0 271.7 L530.0 270.8 L529.0 269.1Z" fill="#1c1c1c" filter="url(#b1)" opacity="1.0"/>
<path d="M576.5 269.4 L577.4 268.1 L578.4 267.5 L579.3 267.1 L580.3 266.7 L581.2 266.4 L582.2 266.0 L583.1 265.7 L584.1 265.7 L585.0 265.7 L585.9 265.7 L586.9 265.7 L587.8 265.8 L588.8 265.8 L589.7 265.8 L590.7 265.8 L591.6 265.8 L592.6 265.8 L593.5 265.8 L594.4 265.8 L595.4 265.8 L596.3 265.8 L597.3 265.8 L598.2 265.8 L599.2 265.8 L600.1 265.7 L601.1 265.7 L602.0 265.7 L602.9 265.7 L603.9 265.7 L604.8 266.0 L605.8 266.4 L606.7 266.7 L607.7 267.1 L608.6 267.5 L609.6 268.1 L610.5 269.4 L610.5 269.4 L609.6 271.2 L608.6 272.1 L607.7 272.9 L606.7 273.6 L605.8 274.3 L604.8 275.0 L603.9 275.6 L602.9 275.9 L602.0 276.1 L601.1 276.3 L600.1 276.5 L599.2 276.6 L598.2 276.7 L597.3 276.8 L596.3 276.9 L595.4 277.0 L594.4 277.0 L593.5 277.0 L592.6 277.0 L591.6 277.0 L590.7 276.9 L589.7 276.8 L588.8 276.7 L587.8 276.6 L586.9 276.5 L585.9 276.3 L585.0 276.1 L584.1 275.9 L583.1 275.6 L582.2 275.0 L581.2 274.3 L580.3 273.6 L579.3 272.9 L578.4 272.1 L577.4 271.2 L576.5 269.4Z" fill="#1c1c1c" filter="url(#b1)" opacity="1.0"/>
<path d="M628.0 273.0 L628.7 271.7 L629.3 271.2 L630.0 270.7 L630.7 270.4 L631.3 270.1 L632.0 269.8 L632.7 269.5 L633.3 269.5 L634.0 269.5 L634.7 269.5 L635.3 269.5 L636.0 269.5 L636.7 269.5 L637.3 269.5 L638.0 269.5 L638.7 269.5 L639.3 269.5 L640.0 269.5 L640.7 269.5 L641.3 269.5 L642.0 269.5 L642.7 269.5 L643.3 269.5 L644.0 269.5 L644.7 269.5 L645.3 269.5 L646.0 269.5 L646.7 269.5 L647.3 269.5 L648.0 269.8 L648.7 270.1 L649.3 270.4 L650.0 270.7 L650.7 271.2 L651.3 271.7 L652.0 273.0 L652.0 273.0 L651.3 274.3 L650.7 274.8 L650.0 275.3 L649.3 275.6 L648.7 275.9 L648.0 276.2 L647.3 276.5 L646.7 276.5 L646.0 276.5 L645.3 276.5 L644.7 276.5 L644.0 276.5 L643.3 276.5 L642.7 276.5 L642.0 276.5 L641.3 276.5 L640.7 276.5 L640.0 276.5 L639.3 276.5 L638.7 276.5 L638.0 276.5 L637.3 276.5 L636.7 276.5 L636.0 276.5 L635.3 276.5 L634.7 276.5 L634.0 276.5 L633.3 276.5 L632.7 276.5 L632.0 276.2 L631.3 275.9 L630.7 275.6 L630.0 275.3 L629.3 274.8 L628.7 274.3 L628.0 273.0Z" fill="#d5d5d5" filter="url(#b3)" opacity="0.8"/>
<path d="M667.0 271.6 L668.2 270.3 L669.3 269.7 L670.5 269.2 L671.7 268.8 L672.8 268.5 L674.0 268.4 L675.2 268.3 L676.3 268.3 L677.5 268.2 L678.7 268.1 L679.8 268.1 L681.0 268.0 L682.2 267.9 L683.3 267.9 L684.5 267.8 L685.7 267.7 L686.8 267.7 L688.0 267.6 L689.2 267.5 L690.3 267.5 L691.5 267.4 L692.7 267.3 L693.8 267.3 L695.0 267.2 L696.2 267.1 L697.3 267.1 L698.5 267.0 L699.7 266.9 L700.8 266.9 L702.0 266.8 L703.2 266.7 L704.3 266.9 L705.5 267.2 L706.7 267.5 L707.8 268.0 L709.0 269.2 L709.0 269.2 L707.8 270.5 L706.7 271.1 L705.5 271.6 L704.3 272.0 L703.2 272.3 L702.0 272.4 L700.8 272.5 L699.7 272.5 L698.5 272.6 L697.3 272.7 L696.2 272.7 L695.0 272.8 L693.8 272.9 L692.7 272.9 L691.5 273.0 L690.3 273.1 L689.2 273.1 L688.0 273.2 L686.8 273.3 L685.7 273.3 L684.5 273.4 L683.3 273.5 L682.2 273.5 L681.0 273.6 L679.8 273.7 L678.7 273.7 L677.5 273.8 L676.3 273.9 L675.2 273.9 L674.0 274.0 L672.8 274.1 L671.7 273.9 L670.5 273.6 L669.3 273.3 L668.2 272.8 L667.0 271.6Z" fill="#6e6e6e" filter="url(#b1)" opacity="0.75"/>
<circle cx="669.5" cy="271.5" r="2.6" fill="#111" filter="url(#b1)"/>
<path d="M528.0 297.0 L529.0 295.6 L530.0 295.0 L531.0 294.6 L532.1 294.2 L533.1 293.9 L534.1 293.5 L535.1 293.2 L536.1 293.2 L537.1 293.2 L538.1 293.3 L539.2 293.3 L540.2 293.3 L541.2 293.4 L542.2 293.4 L543.2 293.4 L544.2 293.4 L545.2 293.4 L546.2 293.4 L547.3 293.4 L548.3 293.4 L549.3 293.4 L550.3 293.4 L551.3 293.4 L552.3 293.3 L553.3 293.3 L554.4 293.3 L555.4 293.2 L556.4 293.2 L557.4 293.2 L558.4 293.5 L559.4 293.9 L560.4 294.2 L561.5 294.6 L562.5 295.0 L563.5 295.6 L564.5 297.0 L564.5 297.0 L563.5 298.9 L562.5 299.8 L561.5 300.6 L560.4 301.4 L559.4 302.1 L558.4 302.7 L557.4 303.3 L556.4 303.6 L555.4 303.8 L554.4 303.9 L553.3 304.1 L552.3 304.2 L551.3 304.3 L550.3 304.4 L549.3 304.5 L548.3 304.5 L547.3 304.6 L546.2 304.6 L545.2 304.6 L544.2 304.5 L543.2 304.5 L542.2 304.4 L541.2 304.3 L540.2 304.2 L539.2 304.1 L538.1 303.9 L537.1 303.8 L536.1 303.6 L535.1 303.3 L534.1 302.7 L533.1 302.1 L532.1 301.4 L531.0 300.6 L530.0 299.8 L529.0 298.9 L528.0 297.0Z" fill="#1c1c1c" filter="url(#b1)" opacity="1.0"/>
<path d="M576.0 296.4 L577.0 295.3 L578.1 294.9 L579.1 294.6 L580.1 294.2 L581.1 293.9 L582.2 293.6 L583.2 293.4 L584.2 293.4 L585.2 293.5 L586.3 293.5 L587.3 293.5 L588.3 293.6 L589.4 293.6 L590.4 293.6 L591.4 293.6 L592.4 293.6 L593.5 293.6 L594.5 293.6 L595.5 293.6 L596.6 293.6 L597.6 293.6 L598.6 293.6 L599.6 293.6 L600.7 293.6 L601.7 293.5 L602.7 293.5 L603.8 293.5 L604.8 293.4 L605.8 293.4 L606.8 293.6 L607.9 293.9 L608.9 294.2 L609.9 294.6 L610.9 294.9 L612.0 295.3 L613.0 296.4 L613.0 296.4 L612.0 298.2 L610.9 299.2 L609.9 300.2 L608.9 301.1 L607.9 301.9 L606.8 302.7 L605.8 303.4 L604.8 303.8 L603.8 304.1 L602.7 304.4 L601.7 304.7 L600.7 304.9 L599.6 305.1 L598.6 305.3 L597.6 305.4 L596.6 305.5 L595.5 305.5 L594.5 305.5 L593.5 305.5 L592.4 305.5 L591.4 305.4 L590.4 305.3 L589.4 305.1 L588.3 304.9 L587.3 304.7 L586.3 304.4 L585.2 304.1 L584.2 303.8 L583.2 303.4 L582.2 302.7 L581.1 301.9 L580.1 301.1 L579.1 300.2 L578.1 299.2 L577.0 298.2 L576.0 296.4Z" fill="#222" filter="url(#b1)" opacity="1.0"/>
<path d="M623.0 296.3 L624.0 295.3 L625.0 294.9 L626.0 294.6 L627.0 294.3 L628.0 294.0 L629.0 293.7 L630.0 293.4 L631.0 293.5 L632.0 293.6 L633.0 293.6 L634.0 293.6 L635.0 293.7 L636.0 293.7 L637.0 293.8 L638.0 293.8 L639.0 293.8 L640.0 293.8 L641.0 293.8 L642.0 293.8 L643.0 293.8 L644.0 293.8 L645.0 293.8 L646.0 293.7 L647.0 293.7 L648.0 293.6 L649.0 293.6 L650.0 293.6 L651.0 293.5 L652.0 293.4 L653.0 293.7 L654.0 294.0 L655.0 294.3 L656.0 294.6 L657.0 294.9 L658.0 295.3 L659.0 296.3 L659.0 296.3 L658.0 298.1 L657.0 299.3 L656.0 300.3 L655.0 301.3 L654.0 302.2 L653.0 303.1 L652.0 303.9 L651.0 304.4 L650.0 304.8 L649.0 305.1 L648.0 305.4 L647.0 305.7 L646.0 305.9 L645.0 306.1 L644.0 306.2 L643.0 306.3 L642.0 306.4 L641.0 306.4 L640.0 306.4 L639.0 306.3 L638.0 306.2 L637.0 306.1 L636.0 305.9 L635.0 305.7 L634.0 305.4 L633.0 305.1 L632.0 304.8 L631.0 304.4 L630.0 303.9 L629.0 303.1 L628.0 302.2 L627.0 301.3 L626.0 300.3 L625.0 299.3 L624.0 298.1 L623.0 296.3Z" fill="#1e1e1e" filter="url(#b1)" opacity="1.0"/>
<path d="M664.0 299.0 L665.3 297.2 L666.6 296.4 L667.9 295.8 L669.2 295.3 L670.5 294.8 L671.8 294.3 L673.0 294.0 L674.3 293.9 L675.6 293.8 L676.9 293.7 L678.2 293.6 L679.5 293.5 L680.8 293.4 L682.1 293.3 L683.4 293.2 L684.7 293.1 L686.0 293.0 L687.2 292.9 L688.5 292.8 L689.8 292.7 L691.1 292.6 L692.4 292.5 L693.7 292.4 L695.0 292.3 L696.3 292.2 L697.6 292.1 L698.9 292.0 L700.2 291.9 L701.5 291.8 L702.8 291.9 L704.0 292.2 L705.3 292.5 L706.6 292.8 L707.9 293.2 L709.2 293.8 L710.5 295.4 L710.5 295.4 L709.2 297.2 L707.9 298.0 L706.6 298.6 L705.3 299.1 L704.0 299.6 L702.8 300.1 L701.5 300.4 L700.2 300.5 L698.9 300.6 L697.6 300.7 L696.3 300.8 L695.0 300.9 L693.7 301.0 L692.4 301.1 L691.1 301.2 L689.8 301.3 L688.5 301.4 L687.2 301.5 L686.0 301.6 L684.7 301.7 L683.4 301.8 L682.1 301.9 L680.8 302.0 L679.5 302.1 L678.2 302.2 L676.9 302.3 L675.6 302.4 L674.3 302.5 L673.0 302.6 L671.8 302.5 L670.5 302.2 L669.2 301.9 L667.9 301.6 L666.6 301.2 L665.3 300.6 L664.0 299.0Z" fill="#333" filter="url(#b1)" opacity="1.0"/>
</g>
<text x="458.50" y="160.80" font-size="19.6" text-anchor="start" >ER</text>
<text x="458.50" y="186.00" font-size="19.6" text-anchor="start" >RARA</text>
<text x="458.50" y="211.20" font-size="19.6" text-anchor="start" >Actin</text>
<text x="458.50" y="261.30" font-size="19.6" text-anchor="start" >ER</text>
<text x="458.50" y="285.80" font-size="19.6" text-anchor="start" >RARA</text>
<text x="458.50" y="311.20" font-size="19.6" text-anchor="start" >Actin</text>
<text x="443.60" y="179.20" font-size="19.6" text-anchor="middle" transform="rotate(-90 443.60 179.20)" >MCF7</text>
<text x="443.60" y="281.60" font-size="19.6" text-anchor="middle" transform="rotate(-90 443.60 281.60)" >LCC2</text>
<text x="545.50" y="136.30" font-size="19.6" text-anchor="start" transform="rotate(-45 545.50 136.30)" >Ctrl</text>
<text x="594.50" y="136.30" font-size="19.6" text-anchor="start" transform="rotate(-45 594.50 136.30)" >siCtrl</text>
<text x="641.50" y="136.30" font-size="19.6" text-anchor="start" transform="rotate(-45 641.50 136.30)" >siRARA</text>
<text x="688.80" y="136.30" font-size="19.6" text-anchor="start" transform="rotate(-45 688.80 136.30)" >siER</text>
<text x="739.50" y="131.50" font-size="19.6" text-anchor="start" >kDa</text>
<line x1="715.40" y1="151.00" x2="735.20" y2="151.00" stroke="#231f20" stroke-width="1.5" stroke-linecap="butt" />
<text x="741.00" y="156.10" font-size="19.6" text-anchor="start" >64</text>
<line x1="715.40" y1="191.20" x2="735.20" y2="191.20" stroke="#231f20" stroke-width="1.5" stroke-linecap="butt" />
<text x="741.00" y="196.30" font-size="19.6" text-anchor="start" >51</text>
<line x1="715.40" y1="218.90" x2="735.20" y2="218.90" stroke="#231f20" stroke-width="1.5" stroke-linecap="butt" />
<text x="741.00" y="223.70" font-size="19.6" text-anchor="start" >39</text>
<line x1="715.40" y1="239.40" x2="735.20" y2="239.40" stroke="#231f20" stroke-width="1.5" stroke-linecap="butt" />
<text x="741.00" y="244.50" font-size="19.6" text-anchor="start" >64</text>
<line x1="715.40" y1="280.00" x2="735.20" y2="280.00" stroke="#231f20" stroke-width="1.5" stroke-linecap="butt" />
<text x="741.00" y="285.00" font-size="19.6" text-anchor="start" >51</text>
<line x1="715.40" y1="305.30" x2="735.20" y2="305.30" stroke="#231f20" stroke-width="1.5" stroke-linecap="butt" />
<text x="741.00" y="311.00" font-size="19.6" text-anchor="start" >39</text>
</g>
<g id="pc">
<text x="146.00" y="431.30" font-size="32" text-anchor="start" font-weight="bold" >c</text>
<line x1="254.80" y1="441.60" x2="254.80" y2="592.10" stroke="#231f20" stroke-width="1.85" stroke-linecap="butt" />
<line x1="254.00" y1="591.30" x2="631.60" y2="591.30" stroke="#231f20" stroke-width="1.85" stroke-linecap="butt" />
<line x1="255.20" y1="591.30" x2="255.20" y2="595.50" stroke="#231f20" stroke-width="1.85" stroke-linecap="butt" />
<text x="255.20" y="617.30" font-size="19.6" text-anchor="middle" >–12</text>
<line x1="308.87" y1="591.30" x2="308.87" y2="595.50" stroke="#231f20" stroke-width="1.85" stroke-linecap="butt" />
<text x="308.87" y="617.30" font-size="19.6" text-anchor="middle" >–11</text>
<line x1="362.54" y1="591.30" x2="362.54" y2="595.50" stroke="#231f20" stroke-width="1.85" stroke-linecap="butt" />
<text x="362.54" y="617.30" font-size="19.6" text-anchor="middle" >–10</text>
<line x1="416.21" y1="591.30" x2="416.21" y2="595.50" stroke="#231f20" stroke-width="1.85" stroke-linecap="butt" />
<text x="416.21" y="617.30" font-size="19.6" text-anchor="middle" >–9</text>
<line x1="469.88" y1="591.30" x2="469.88" y2="595.50" stroke="#231f20" stroke-width="1.85" stroke-linecap="butt" />
<text x="469.88" y="617.30" font-size="19.6" text-anchor="middle" >–8</text>
<line x1="523.55" y1="591.30" x2="523.55" y2="595.50" stroke="#231f20" stroke-width="1.85" stroke-linecap="butt" />
<text x="523.55" y="617.30" font-size="19.6" text-anchor="middle" >–7</text>
<line x1="577.22" y1="591.30" x2="577.22" y2="595.50" stroke="#231f20" stroke-width="1.85" stroke-linecap="butt" />
<text x="577.22" y="617.30" font-size="19.6" text-anchor="middle" >–6</text>
<line x1="630.89" y1="591.30" x2="630.89" y2="595.50" stroke="#231f20" stroke-width="1.85" stroke-linecap="butt" />
<text x="630.89" y="617.30" font-size="19.6" text-anchor="middle" >–5</text>
<text x="443.00" y="648.30" font-size="20.1" text-anchor="middle" >Log[EC50]</text>
<line x1="251.40" y1="458.00" x2="254.80" y2="458.00" stroke="#231f20" stroke-width="1.85" stroke-linecap="butt" />
<text x="244.60" y="464.20" font-size="19.6" text-anchor="end" >E2</text>
<line x1="251.40" y1="487.30" x2="254.80" y2="487.30" stroke="#231f20" stroke-width="1.85" stroke-linecap="butt" />
<text x="244.60" y="493.50" font-size="19.6" text-anchor="end" >4-OHT</text>
<line x1="251.40" y1="517.10" x2="254.80" y2="517.10" stroke="#231f20" stroke-width="1.85" stroke-linecap="butt" />
<text x="244.60" y="523.30" font-size="19.6" text-anchor="end" >Fulvestrant</text>
<line x1="251.40" y1="546.90" x2="254.80" y2="546.90" stroke="#231f20" stroke-width="1.85" stroke-linecap="butt" />
<text x="244.60" y="553.10" font-size="19.6" text-anchor="end" >AM580</text>
<line x1="251.40" y1="576.70" x2="254.80" y2="576.70" stroke="#231f20" stroke-width="1.85" stroke-linecap="butt" />
<text x="244.60" y="582.90" font-size="19.6" text-anchor="end" >Fenretinide</text>
<line x1="306.10" y1="458.00" x2="321.60" y2="458.00" stroke="#2e3192" stroke-width="3.0" stroke-linecap="butt" />
<rect x="304.10" y="447.80" width="4.0" height="7.50" rx="1.1" fill="#231f20"/>
<rect x="304.10" y="460.70" width="4.0" height="7.50" rx="1.1" fill="#231f20"/>
<line x1="321.60" y1="448.40" x2="321.60" y2="467.60" stroke="#231f20" stroke-width="3.2" stroke-linecap="butt" />
<line x1="383.80" y1="487.30" x2="603.70" y2="487.30" stroke="#2e3192" stroke-width="3.0" stroke-linecap="butt" />
<rect x="381.80" y="477.10" width="4.0" height="7.50" rx="1.1" fill="#231f20"/>
<rect x="381.80" y="490.00" width="4.0" height="7.50" rx="1.1" fill="#231f20"/>
<line x1="603.70" y1="477.70" x2="603.70" y2="496.90" stroke="#231f20" stroke-width="3.2" stroke-linecap="butt" />
<line x1="351.00" y1="517.10" x2="402.50" y2="517.10" stroke="#2e3192" stroke-width="3.0" stroke-linecap="butt" />
<rect x="349.00" y="506.90" width="4.0" height="7.50" rx="1.1" fill="#231f20"/>
<rect x="349.00" y="519.80" width="4.0" height="7.50" rx="1.1" fill="#231f20"/>
<line x1="402.50" y1="507.50" x2="402.50" y2="526.70" stroke="#231f20" stroke-width="3.2" stroke-linecap="butt" />
<line x1="429.20" y1="546.90" x2="490.80" y2="546.90" stroke="#be1e2d" stroke-width="3.0" stroke-linecap="butt" />
<rect x="488.80" y="536.70" width="4.0" height="7.50" rx="1.1" fill="#231f20"/>
<rect x="488.80" y="549.60" width="4.0" height="7.50" rx="1.1" fill="#231f20"/>
<line x1="429.20" y1="537.30" x2="429.20" y2="556.50" stroke="#231f20" stroke-width="3.2" stroke-linecap="butt" />
<line x1="547.60" y1="576.90" x2="609.30" y2="576.90" stroke="#be1e2d" stroke-width="3.0" stroke-linecap="butt" />
<rect x="607.30" y="566.70" width="4.0" height="7.50" rx="1.1" fill="#231f20"/>
<rect x="607.30" y="579.60" width="4.0" height="7.50" rx="1.1" fill="#231f20"/>
<line x1="547.60" y1="567.30" x2="547.60" y2="586.50" stroke="#231f20" stroke-width="3.2" stroke-linecap="butt" />
<rect x="270.75" y="409.50" width="4.1" height="8.50" rx="1.1" fill="#231f20"/>
<rect x="270.75" y="423.60" width="4.1" height="8.50" rx="1.1" fill="#231f20"/>
<text x="286.00" y="430.20" font-size="19.6" text-anchor="start" >MCF7</text>
<line x1="352.80" y1="411.30" x2="352.80" y2="433.00" stroke="#231f20" stroke-width="3.4" stroke-linecap="butt" />
<text x="366.00" y="429.60" font-size="19.6" text-anchor="start" >LCC2</text>
</g>
<g id="pd">
<text x="0.50" y="716.60" font-size="32" text-anchor="start" font-weight="bold" >d</text>
<line x1="92.85" y1="726.00" x2="92.85" y2="996.80" stroke="#231f20" stroke-width="1.85" stroke-linecap="butt" />
<line x1="92.05" y1="996.00" x2="362.40" y2="996.00" stroke="#231f20" stroke-width="1.85" stroke-linecap="butt" />
<line x1="89.45" y1="996.00" x2="92.85" y2="996.00" stroke="#231f20" stroke-width="1.85" stroke-linecap="butt" />
<text x="83.40" y="1003.20" font-size="19.6" text-anchor="end" >0.0</text>
<line x1="89.45" y1="951.13" x2="92.85" y2="951.13" stroke="#231f20" stroke-width="1.85" stroke-linecap="butt" />
<text x="83.40" y="958.33" font-size="19.6" text-anchor="end" >0.2</text>
<line x1="89.45" y1="906.27" x2="92.85" y2="906.27" stroke="#231f20" stroke-width="1.85" stroke-linecap="butt" />
<text x="83.40" y="913.47" font-size="19.6" text-anchor="end" >0.4</text>
<line x1="89.45" y1="861.40" x2="92.85" y2="861.40" stroke="#231f20" stroke-width="1.85" stroke-linecap="butt" />
<text x="83.40" y="868.60" font-size="19.6" text-anchor="end" >0.6</text>
<line x1="89.45" y1="816.53" x2="92.85" y2="816.53" stroke="#231f20" stroke-width="1.85" stroke-linecap="butt" />
<text x="83.40" y="823.73" font-size="19.6" text-anchor="end" >0.8</text>
<line x1="89.45" y1="771.67" x2="92.85" y2="771.67" stroke="#231f20" stroke-width="1.85" stroke-linecap="butt" />
<text x="83.40" y="778.87" font-size="19.6" text-anchor="end" >1.0</text>
<line x1="89.45" y1="726.80" x2="92.85" y2="726.80" stroke="#231f20" stroke-width="1.85" stroke-linecap="butt" />
<text x="83.40" y="734.00" font-size="19.6" text-anchor="end" >1.2</text>
<line x1="92.70" y1="996.00" x2="92.70" y2="999.40" stroke="#231f20" stroke-width="1.85" stroke-linecap="butt" />
<text x="92.90" y="1020.80" font-size="19.6" text-anchor="middle" >–11</text>
<line x1="146.50" y1="996.00" x2="146.50" y2="999.40" stroke="#231f20" stroke-width="1.85" stroke-linecap="butt" />
<text x="148.00" y="1020.80" font-size="19.6" text-anchor="middle" >–10</text>
<line x1="200.30" y1="996.00" x2="200.30" y2="999.40" stroke="#231f20" stroke-width="1.85" stroke-linecap="butt" />
<text x="201.80" y="1020.80" font-size="19.6" text-anchor="middle" >–9</text>
<line x1="254.10" y1="996.00" x2="254.10" y2="999.40" stroke="#231f20" stroke-width="1.85" stroke-linecap="butt" />
<text x="255.60" y="1020.80" font-size="19.6" text-anchor="middle" >–8</text>
<line x1="307.90" y1="996.00" x2="307.90" y2="999.40" stroke="#231f20" stroke-width="1.85" stroke-linecap="butt" />
<text x="309.40" y="1020.80" font-size="19.6" text-anchor="middle" >–7</text>
<line x1="361.70" y1="996.00" x2="361.70" y2="999.40" stroke="#231f20" stroke-width="1.85" stroke-linecap="butt" />
<text x="363.20" y="1020.80" font-size="19.6" text-anchor="middle" >–6</text>
<text x="282.20" y="1051.80" font-size="20.1" text-anchor="end" >Log[AM580]</text>
<text x="17.40" y="861.90" font-size="19.8" text-anchor="middle" transform="rotate(-90 17.40 861.90)" >BrdU incorporation</text>
<text x="40.70" y="861.90" font-size="19.8" text-anchor="middle" transform="rotate(-90 40.70 861.90)" >(fold to untreated)</text>
<circle cx="104.8" cy="762.3" r="3.3" fill="white" stroke="#231f20" stroke-width="2.4"/>
<circle cx="104.8" cy="768.2" r="3.3" fill="white" stroke="#231f20" stroke-width="2.4"/>
<circle cx="130.4" cy="737.0" r="3.3" fill="white" stroke="#231f20" stroke-width="2.4"/>
<circle cx="130.4" cy="757.8" r="3.3" fill="white" stroke="#231f20" stroke-width="2.4"/>
<circle cx="156.1" cy="732.4" r="3.3" fill="white" stroke="#231f20" stroke-width="2.4"/>
<circle cx="156.1" cy="764.1" r="3.3" fill="white" stroke="#231f20" stroke-width="2.4"/>
<circle cx="181.8" cy="748.9" r="3.3" fill="white" stroke="#231f20" stroke-width="2.4"/>
<circle cx="181.8" cy="749.6" r="3.3" fill="white" stroke="#231f20" stroke-width="2.4"/>
<circle cx="207.4" cy="780.1" r="3.3" fill="white" stroke="#231f20" stroke-width="2.4"/>
<circle cx="207.4" cy="787.7" r="3.3" fill="white" stroke="#231f20" stroke-width="2.4"/>
<circle cx="233.1" cy="778.8" r="3.3" fill="white" stroke="#231f20" stroke-width="2.4"/>
<circle cx="233.1" cy="786.4" r="3.3" fill="white" stroke="#231f20" stroke-width="2.4"/>
<circle cx="258.7" cy="796.1" r="3.3" fill="white" stroke="#231f20" stroke-width="2.4"/>
<circle cx="258.7" cy="800.4" r="3.3" fill="white" stroke="#231f20" stroke-width="2.4"/>
<circle cx="284.3" cy="820.0" r="3.3" fill="white" stroke="#231f20" stroke-width="2.4"/>
<circle cx="284.3" cy="828.6" r="3.3" fill="white" stroke="#231f20" stroke-width="2.4"/>
<circle cx="310.0" cy="849.1" r="3.3" fill="white" stroke="#231f20" stroke-width="2.4"/>
<circle cx="310.0" cy="857.5" r="3.3" fill="white" stroke="#231f20" stroke-width="2.4"/>
<circle cx="335.6" cy="854.5" r="3.3" fill="white" stroke="#231f20" stroke-width="2.4"/>
<circle cx="335.6" cy="872.7" r="3.3" fill="white" stroke="#231f20" stroke-width="2.4"/>
<circle cx="361.3" cy="870.2" r="3.3" fill="white" stroke="#231f20" stroke-width="2.4"/>
<circle cx="361.3" cy="877.3" r="3.3" fill="white" stroke="#231f20" stroke-width="2.4"/>
<circle cx="104.8" cy="783.9" r="4.85" fill="#231f20"/>
<circle cx="104.8" cy="791.5" r="4.85" fill="#231f20"/>
<circle cx="130.4" cy="792.3" r="4.85" fill="#231f20"/>
<circle cx="130.4" cy="805.5" r="4.85" fill="#231f20"/>
<circle cx="156.1" cy="797.1" r="4.85" fill="#231f20"/>
<circle cx="156.1" cy="800.9" r="4.85" fill="#231f20"/>
<circle cx="181.8" cy="811.8" r="4.85" fill="#231f20"/>
<circle cx="181.8" cy="833.9" r="4.85" fill="#231f20"/>
<circle cx="207.4" cy="843.5" r="4.85" fill="#231f20"/>
<circle cx="207.4" cy="845.0" r="4.85" fill="#231f20"/>
<circle cx="233.1" cy="850.4" r="4.85" fill="#231f20"/>
<circle cx="233.1" cy="852.6" r="4.85" fill="#231f20"/>
<circle cx="258.7" cy="870.5" r="4.85" fill="#231f20"/>
<circle cx="258.7" cy="886.0" r="4.85" fill="#231f20"/>
<circle cx="284.3" cy="894.5" r="4.85" fill="#231f20"/>
<circle cx="284.3" cy="896.5" r="4.85" fill="#231f20"/>
<circle cx="310.0" cy="898.1" r="4.85" fill="#231f20"/>
<circle cx="310.0" cy="905.2" r="4.85" fill="#231f20"/>
<circle cx="335.6" cy="898.1" r="4.85" fill="#231f20"/>
<circle cx="335.6" cy="907.0" r="4.85" fill="#231f20"/>
<circle cx="361.3" cy="899.3" r="4.85" fill="#231f20"/>
<circle cx="361.3" cy="901.9" r="4.85" fill="#231f20"/>
<path d="M105.07 752.45 L106.69 752.48 L108.30 752.52 L109.92 752.56 L111.53 752.60 L113.14 752.64 L114.76 752.69 L116.37 752.73 L117.99 752.78 L119.60 752.84 L121.21 752.89 L122.83 752.95 L124.44 753.01 L126.06 753.07 L127.67 753.14 L129.28 753.21 L130.90 753.28 L132.51 753.36 L134.13 753.44 L135.74 753.52 L137.35 753.61 L138.97 753.71 L140.58 753.81 L142.20 753.91 L143.81 754.02 L145.42 754.13 L147.04 754.25 L148.65 754.38 L150.27 754.51 L151.88 754.65 L153.49 754.79 L155.11 754.94 L156.72 755.10 L158.34 755.27 L159.95 755.44 L161.56 755.63 L163.18 755.82 L164.79 756.02 L166.41 756.23 L168.02 756.45 L169.63 756.69 L171.25 756.93 L172.86 757.18 L174.48 757.45 L176.09 757.73 L177.70 758.02 L179.32 758.33 L180.93 758.65 L182.55 758.98 L184.16 759.33 L185.77 759.70 L187.39 760.08 L189.00 760.48 L190.62 760.90 L192.23 761.33 L193.84 761.79 L195.46 762.26 L197.07 762.75 L198.69 763.27 L200.30 763.81 L201.91 764.36 L203.53 764.95 L205.14 765.55 L206.76 766.18 L208.37 766.84 L209.98 767.52 L211.60 768.23 L213.21 768.96 L214.83 769.73 L216.44 770.52 L218.05 771.33 L219.67 772.18 L221.28 773.06 L222.90 773.97 L224.51 774.91 L226.12 775.88 L227.74 776.88 L229.35 777.91 L230.97 778.97 L232.58 780.07 L234.19 781.19 L235.81 782.35 L237.42 783.54 L239.04 784.76 L240.65 786.01 L242.26 787.28 L243.88 788.59 L245.49 789.93 L247.11 791.30 L248.72 792.69 L250.33 794.11 L251.95 795.55 L253.56 797.02 L255.18 798.50 L256.79 800.01 L258.40 801.54 L260.02 803.09 L261.63 804.66 L263.25 806.23 L264.86 807.82 L266.47 809.43 L268.09 811.04 L269.70 812.66 L271.32 814.28 L272.93 815.90 L274.54 817.53 L276.16 819.16 L277.77 820.78 L279.39 822.39 L281.00 824.00 L282.61 825.61 L284.23 827.19 L285.84 828.77 L287.46 830.33 L289.07 831.88 L290.68 833.41 L292.30 834.91 L293.91 836.40 L295.53 837.86 L297.14 839.30 L298.75 840.72 L300.37 842.11 L301.98 843.47 L303.60 844.80 L305.21 846.11 L306.82 847.38 L308.44 848.63 L310.05 849.84 L311.67 851.03 L313.28 852.18 L314.89 853.30 L316.51 854.39 L318.12 855.45 L319.74 856.48 L321.35 857.47 L322.96 858.44 L324.58 859.37 L326.19 860.28 L327.81 861.15 L329.42 862.00 L331.03 862.81 L332.65 863.60 L334.26 864.36 L335.88 865.09 L337.49 865.79 L339.10 866.47 L340.72 867.12 L342.33 867.75 L343.95 868.35 L345.56 868.93 L347.17 869.49 L348.79 870.02 L350.40 870.54 L352.02 871.03 L353.63 871.50 L355.24 871.95 L356.86 872.38 L358.47 872.80 L360.09 873.20 L361.70 873.58" fill="none" stroke="#231f20" stroke-width="3.3" stroke-linecap="round" stroke-linejoin="round"/>
<path d="M105.07 790.17 L106.69 790.42 L108.30 790.68 L109.92 790.96 L111.53 791.24 L113.14 791.53 L114.76 791.84 L116.37 792.16 L117.99 792.49 L119.60 792.84 L121.21 793.20 L122.83 793.57 L124.44 793.96 L126.06 794.36 L127.67 794.78 L129.28 795.21 L130.90 795.66 L132.51 796.12 L134.13 796.60 L135.74 797.10 L137.35 797.62 L138.97 798.16 L140.58 798.71 L142.20 799.29 L143.81 799.88 L145.42 800.49 L147.04 801.13 L148.65 801.78 L150.27 802.46 L151.88 803.16 L153.49 803.88 L155.11 804.62 L156.72 805.38 L158.34 806.17 L159.95 806.98 L161.56 807.81 L163.18 808.66 L164.79 809.54 L166.41 810.45 L168.02 811.37 L169.63 812.32 L171.25 813.29 L172.86 814.29 L174.48 815.31 L176.09 816.35 L177.70 817.41 L179.32 818.50 L180.93 819.61 L182.55 820.73 L184.16 821.88 L185.77 823.05 L187.39 824.24 L189.00 825.45 L190.62 826.67 L192.23 827.92 L193.84 829.18 L195.46 830.45 L197.07 831.74 L198.69 833.04 L200.30 834.35 L201.91 835.68 L203.53 837.01 L205.14 838.35 L206.76 839.70 L208.37 841.06 L209.98 842.42 L211.60 843.79 L213.21 845.15 L214.83 846.52 L216.44 847.89 L218.05 849.25 L219.67 850.61 L221.28 851.97 L222.90 853.32 L224.51 854.66 L226.12 856.00 L227.74 857.32 L229.35 858.64 L230.97 859.94 L232.58 861.23 L234.19 862.51 L235.81 863.76 L237.42 865.01 L239.04 866.24 L240.65 867.44 L242.26 868.63 L243.88 869.80 L245.49 870.96 L247.11 872.09 L248.72 873.19 L250.33 874.28 L251.95 875.35 L253.56 876.39 L255.18 877.41 L256.79 878.41 L258.40 879.38 L260.02 880.33 L261.63 881.26 L263.25 882.16 L264.86 883.04 L266.47 883.90 L268.09 884.74 L269.70 885.55 L271.32 886.33 L272.93 887.10 L274.54 887.84 L276.16 888.56 L277.77 889.26 L279.39 889.94 L281.00 890.60 L282.61 891.23 L284.23 891.85 L285.84 892.44 L287.46 893.02 L289.07 893.57 L290.68 894.11 L292.30 894.63 L293.91 895.13 L295.53 895.62 L297.14 896.08 L298.75 896.53 L300.37 896.97 L301.98 897.38 L303.60 897.79 L305.21 898.17 L306.82 898.55 L308.44 898.91 L310.05 899.25 L311.67 899.59 L313.28 899.91 L314.89 900.21 L316.51 900.51 L318.12 900.80 L319.74 901.07 L321.35 901.33 L322.96 901.59 L324.58 901.83 L326.19 902.06 L327.81 902.29 L329.42 902.50 L331.03 902.71 L332.65 902.91 L334.26 903.10 L335.88 903.28 L337.49 903.45 L339.10 903.62 L340.72 903.78 L342.33 903.94 L343.95 904.08 L345.56 904.23 L347.17 904.36 L348.79 904.49 L350.40 904.62 L352.02 904.74 L353.63 904.85 L355.24 904.96 L356.86 905.07 L358.47 905.17 L360.09 905.27 L361.70 905.36" fill="none" stroke="#231f20" stroke-width="3.3" stroke-linecap="round" stroke-linejoin="round"/>
<circle cx="106.6" cy="940.0" r="3.3" fill="white" stroke="#231f20" stroke-width="2.4"/>
<text x="118.00" y="945.60" font-size="19.6" text-anchor="start" >MCF7</text>
<circle cx="106.6" cy="968.4" r="4.85" fill="#231f20"/>
<text x="118.00" y="974.80" font-size="19.6" text-anchor="start" >LCC2</text>
</g>
<g id="pe">
<text x="416.50" y="711.60" font-size="32" text-anchor="start" font-weight="bold" >e</text>
<line x1="505.90" y1="727.20" x2="505.90" y2="1000.20" stroke="#231f20" stroke-width="1.85" stroke-linecap="butt" />
<line x1="505.10" y1="999.40" x2="777.70" y2="999.40" stroke="#231f20" stroke-width="1.85" stroke-linecap="butt" />
<line x1="502.50" y1="999.40" x2="505.90" y2="999.40" stroke="#231f20" stroke-width="1.85" stroke-linecap="butt" />
<text x="495.90" y="1006.60" font-size="19.6" text-anchor="end" >0.0</text>
<line x1="502.50" y1="954.17" x2="505.90" y2="954.17" stroke="#231f20" stroke-width="1.85" stroke-linecap="butt" />
<text x="495.90" y="961.37" font-size="19.6" text-anchor="end" >0.2</text>
<line x1="502.50" y1="908.93" x2="505.90" y2="908.93" stroke="#231f20" stroke-width="1.85" stroke-linecap="butt" />
<text x="495.90" y="916.13" font-size="19.6" text-anchor="end" >0.4</text>
<line x1="502.50" y1="863.70" x2="505.90" y2="863.70" stroke="#231f20" stroke-width="1.85" stroke-linecap="butt" />
<text x="495.90" y="870.90" font-size="19.6" text-anchor="end" >0.6</text>
<line x1="502.50" y1="818.47" x2="505.90" y2="818.47" stroke="#231f20" stroke-width="1.85" stroke-linecap="butt" />
<text x="495.90" y="825.67" font-size="19.6" text-anchor="end" >0.8</text>
<line x1="502.50" y1="773.23" x2="505.90" y2="773.23" stroke="#231f20" stroke-width="1.85" stroke-linecap="butt" />
<text x="495.90" y="780.43" font-size="19.6" text-anchor="end" >1.0</text>
<line x1="502.50" y1="728.00" x2="505.90" y2="728.00" stroke="#231f20" stroke-width="1.85" stroke-linecap="butt" />
<text x="495.90" y="735.20" font-size="19.6" text-anchor="end" >1.2</text>
<line x1="505.90" y1="999.40" x2="505.90" y2="1003.20" stroke="#231f20" stroke-width="1.85" stroke-linecap="butt" />
<text x="506.10" y="1025.20" font-size="19.6" text-anchor="middle" >–10</text>
<line x1="551.10" y1="999.40" x2="551.10" y2="1003.20" stroke="#231f20" stroke-width="1.85" stroke-linecap="butt" />
<text x="551.10" y="1025.20" font-size="19.6" text-anchor="middle" >–9</text>
<line x1="596.30" y1="999.40" x2="596.30" y2="1003.20" stroke="#231f20" stroke-width="1.85" stroke-linecap="butt" />
<text x="596.30" y="1025.20" font-size="19.6" text-anchor="middle" >–8</text>
<line x1="641.50" y1="999.40" x2="641.50" y2="1003.20" stroke="#231f20" stroke-width="1.85" stroke-linecap="butt" />
<text x="641.50" y="1025.20" font-size="19.6" text-anchor="middle" >–7</text>
<line x1="686.70" y1="999.40" x2="686.70" y2="1003.20" stroke="#231f20" stroke-width="1.85" stroke-linecap="butt" />
<text x="686.70" y="1025.20" font-size="19.6" text-anchor="middle" >–6</text>
<line x1="731.90" y1="999.40" x2="731.90" y2="1003.20" stroke="#231f20" stroke-width="1.85" stroke-linecap="butt" />
<text x="731.90" y="1025.20" font-size="19.6" text-anchor="middle" >–5</text>
<line x1="777.10" y1="999.40" x2="777.10" y2="1003.20" stroke="#231f20" stroke-width="1.85" stroke-linecap="butt" />
<text x="777.10" y="1025.20" font-size="19.6" text-anchor="middle" >–4</text>
<text x="709.20" y="1058.60" font-size="19.95" text-anchor="end" >Log[fenretinide]</text>
<text x="431.00" y="864.20" font-size="19.8" text-anchor="middle" transform="rotate(-90 431.00 864.20)" >BrdU incorporation</text>
<text x="454.50" y="864.20" font-size="19.8" text-anchor="middle" transform="rotate(-90 454.50 864.20)" >(fold to untreated)</text>
<circle cx="516.1" cy="784.4" r="3.3" fill="white" stroke="#231f20" stroke-width="2.4"/>
<circle cx="516.1" cy="800.9" r="3.3" fill="white" stroke="#231f20" stroke-width="2.4"/>
<circle cx="537.7" cy="793.6" r="3.3" fill="white" stroke="#231f20" stroke-width="2.4"/>
<circle cx="537.7" cy="795.6" r="3.3" fill="white" stroke="#231f20" stroke-width="2.4"/>
<circle cx="559.2" cy="750.4" r="3.3" fill="white" stroke="#231f20" stroke-width="2.4"/>
<circle cx="559.2" cy="787.2" r="3.3" fill="white" stroke="#231f20" stroke-width="2.4"/>
<circle cx="580.8" cy="747.1" r="3.3" fill="white" stroke="#231f20" stroke-width="2.4"/>
<circle cx="602.3" cy="745.8" r="3.3" fill="white" stroke="#231f20" stroke-width="2.4"/>
<circle cx="602.3" cy="753.5" r="3.3" fill="white" stroke="#231f20" stroke-width="2.4"/>
<circle cx="623.9" cy="756.5" r="3.3" fill="white" stroke="#231f20" stroke-width="2.4"/>
<circle cx="623.9" cy="791.5" r="3.3" fill="white" stroke="#231f20" stroke-width="2.4"/>
<circle cx="645.5" cy="745.1" r="3.3" fill="white" stroke="#231f20" stroke-width="2.4"/>
<circle cx="667.0" cy="738.7" r="3.3" fill="white" stroke="#231f20" stroke-width="2.4"/>
<circle cx="688.6" cy="815.1" r="3.3" fill="white" stroke="#231f20" stroke-width="2.4"/>
<circle cx="688.6" cy="873.8" r="3.3" fill="white" stroke="#231f20" stroke-width="2.4"/>
<circle cx="710.1" cy="878.4" r="3.3" fill="white" stroke="#231f20" stroke-width="2.4"/>
<circle cx="710.1" cy="886.1" r="3.3" fill="white" stroke="#231f20" stroke-width="2.4"/>
<circle cx="516.1" cy="761.0" r="4.85" fill="#231f20"/>
<circle cx="516.1" cy="764.9" r="4.85" fill="#231f20"/>
<circle cx="537.7" cy="751.7" r="4.85" fill="#231f20"/>
<circle cx="537.7" cy="758.5" r="4.85" fill="#231f20"/>
<circle cx="559.2" cy="766.1" r="4.85" fill="#231f20"/>
<circle cx="580.8" cy="771.7" r="4.85" fill="#231f20"/>
<circle cx="602.3" cy="774.3" r="4.85" fill="#231f20"/>
<circle cx="623.9" cy="763.6" r="4.85" fill="#231f20"/>
<circle cx="623.9" cy="771.2" r="4.85" fill="#231f20"/>
<circle cx="645.5" cy="793.6" r="4.85" fill="#231f20"/>
<circle cx="667.0" cy="909.5" r="4.85" fill="#231f20"/>
<circle cx="667.0" cy="924.7" r="4.85" fill="#231f20"/>
<circle cx="688.6" cy="971.7" r="4.85" fill="#231f20"/>
<circle cx="688.6" cy="992.0" r="4.85" fill="#231f20"/>
<circle cx="710.1" cy="999.1" r="4.85" fill="#231f20"/>
<circle cx="731.7" cy="999.1" r="4.85" fill="#231f20"/>
<path d="M516.30 764.05 L517.65 764.05 L519.01 764.05 L520.36 764.05 L521.72 764.05 L523.08 764.05 L524.43 764.05 L525.79 764.05 L527.14 764.05 L528.50 764.05 L529.86 764.05 L531.21 764.05 L532.57 764.05 L533.92 764.05 L535.28 764.05 L536.64 764.05 L537.99 764.05 L539.35 764.05 L540.70 764.05 L542.06 764.05 L543.42 764.05 L544.77 764.05 L546.13 764.05 L547.48 764.05 L548.84 764.05 L550.20 764.05 L551.55 764.05 L552.91 764.05 L554.26 764.05 L555.62 764.05 L556.98 764.05 L558.33 764.05 L559.69 764.06 L561.04 764.06 L562.40 764.06 L563.76 764.06 L565.11 764.06 L566.47 764.06 L567.82 764.06 L569.18 764.06 L570.54 764.06 L571.89 764.06 L573.25 764.06 L574.60 764.06 L575.96 764.06 L577.32 764.06 L578.67 764.07 L580.03 764.07 L581.38 764.07 L582.74 764.07 L584.10 764.08 L585.45 764.08 L586.81 764.09 L588.16 764.09 L589.52 764.10 L590.88 764.11 L592.23 764.12 L593.59 764.13 L594.94 764.14 L596.30 764.16 L597.66 764.17 L599.01 764.20 L600.37 764.22 L601.72 764.25 L603.08 764.28 L604.44 764.32 L605.79 764.37 L607.15 764.42 L608.50 764.49 L609.86 764.56 L611.22 764.65 L612.57 764.75 L613.93 764.87 L615.28 765.01 L616.64 765.18 L618.00 765.37 L619.35 765.59 L620.71 765.86 L622.06 766.17 L623.42 766.53 L624.78 766.95 L626.13 767.45 L627.49 768.03 L628.84 768.70 L630.20 769.48 L631.56 770.40 L632.91 771.46 L634.27 772.70 L635.62 774.13 L636.98 775.78 L638.34 777.69 L639.69 779.90 L641.05 782.42 L642.40 785.32 L643.76 788.61 L645.12 792.35 L646.47 796.57 L647.83 801.31 L649.18 806.59 L650.54 812.44 L651.90 818.87 L653.25 825.87 L654.61 833.42 L655.96 841.49 L657.32 850.01 L658.68 858.90 L660.03 868.08 L661.39 877.44 L662.74 886.85 L664.10 896.20 L665.46 905.38 L666.81 914.28 L668.17 922.79 L669.52 930.85 L670.88 938.40 L672.24 945.40 L673.59 951.82 L674.95 957.67 L676.30 962.95 L677.66 967.69 L679.02 971.90 L680.37 975.64 L681.73 978.93 L683.08 981.82 L684.44 984.35 L685.80 986.55 L687.15 988.46 L688.51 990.11 L689.86 991.54 L691.22 992.78 L692.58 993.84 L693.93 994.75 L695.29 995.54 L696.64 996.21 L698.00 996.79 L699.36 997.28 L700.71 997.70 L702.07 998.07 L703.42 998.38 L704.78 998.64 L706.14 998.87 L707.49 999.06 L708.85 999.22 L710.20 999.36 L711.56 999.48 L712.92 999.59 L714.27 999.67 L715.63 999.75 L716.98 999.81 L718.34 999.87 L719.70 999.91 L721.05 999.95 L722.41 999.98 L723.76 1000.01 L725.12 1000.04 L726.48 1000.06 L727.83 1000.08 L729.19 1000.09 L730.54 1000.10 L731.90 1000.12" fill="none" stroke="#231f20" stroke-width="3.3" stroke-linecap="round" stroke-linejoin="round"/>
<path d="M516.10 766.20 C523.42 766.20 546.02 766.20 560.00 766.20 C573.98 766.20 589.42 766.18 600.00 766.20 C610.58 766.22 614.92 765.78 623.50 766.30 C632.08 766.82 643.88 767.22 651.50 769.30 C659.12 771.38 664.13 774.25 669.20 778.80 C674.27 783.35 678.52 790.47 681.90 796.60 C685.28 802.73 686.53 807.13 689.50 815.60 C692.47 824.07 696.73 837.03 699.70 847.40 C702.67 857.77 705.62 871.20 707.30 877.80 C708.98 884.40 707.68 877.28 709.80 887.00 C711.92 896.72 716.35 917.55 720.00 936.10 C723.65 954.65 729.75 987.93 731.70 998.30" fill="none" stroke="#231f20" stroke-width="3.3" stroke-linecap="round" stroke-linejoin="round"/>
<circle cx="516.2" cy="953.9" r="3.3" fill="white" stroke="#231f20" stroke-width="2.4"/>
<text x="527.60" y="959.60" font-size="19.6" text-anchor="start" >MCF7</text>
<circle cx="516.2" cy="982.6" r="4.85" fill="#231f20"/>
<text x="527.60" y="988.30" font-size="19.6" text-anchor="start" >LCC2</text>
</g>
<g id="pf">
<text x="195.00" y="1125.40" font-size="32" text-anchor="start" font-weight="bold" >f</text>
<line x1="281.50" y1="1135.50" x2="281.50" y2="1345.60" stroke="#231f20" stroke-width="1.85" stroke-linecap="butt" />
<line x1="280.70" y1="1344.80" x2="595.30" y2="1344.80" stroke="#231f20" stroke-width="1.85" stroke-linecap="butt" />
<line x1="278.10" y1="1344.80" x2="281.50" y2="1344.80" stroke="#231f20" stroke-width="1.85" stroke-linecap="butt" />
<text x="272.80" y="1352.00" font-size="19.6" text-anchor="end" >0.0</text>
<line x1="278.10" y1="1292.67" x2="281.50" y2="1292.67" stroke="#231f20" stroke-width="1.85" stroke-linecap="butt" />
<text x="272.80" y="1299.88" font-size="19.6" text-anchor="end" >0.5</text>
<line x1="278.10" y1="1240.55" x2="281.50" y2="1240.55" stroke="#231f20" stroke-width="1.85" stroke-linecap="butt" />
<text x="272.80" y="1247.75" font-size="19.6" text-anchor="end" >1.0</text>
<line x1="278.10" y1="1188.42" x2="281.50" y2="1188.42" stroke="#231f20" stroke-width="1.85" stroke-linecap="butt" />
<text x="272.80" y="1195.62" font-size="19.6" text-anchor="end" >1.5</text>
<line x1="278.10" y1="1136.30" x2="281.50" y2="1136.30" stroke="#231f20" stroke-width="1.85" stroke-linecap="butt" />
<text x="272.80" y="1143.50" font-size="19.6" text-anchor="end" >2.0</text>
<line x1="333.70" y1="1344.80" x2="333.70" y2="1348.20" stroke="#231f20" stroke-width="1.85" stroke-linecap="butt" />
<line x1="437.60" y1="1344.80" x2="437.60" y2="1348.20" stroke="#231f20" stroke-width="1.85" stroke-linecap="butt" />
<line x1="541.40" y1="1344.80" x2="541.40" y2="1348.20" stroke="#231f20" stroke-width="1.85" stroke-linecap="butt" />
<line x1="314.10" y1="1240.00" x2="314.10" y2="1240.90" stroke="#231f20" stroke-width="1.8" stroke-linecap="butt" />
<line x1="307.60" y1="1240.00" x2="320.60" y2="1240.00" stroke="#231f20" stroke-width="1.8" stroke-linecap="butt" />
<line x1="352.95" y1="1173.30" x2="352.95" y2="1198.80" stroke="#231f20" stroke-width="1.8" stroke-linecap="butt" />
<line x1="346.45" y1="1173.30" x2="359.45" y2="1173.30" stroke="#231f20" stroke-width="1.8" stroke-linecap="butt" />
<rect x="301.30" y="1241.80" width="25.60" height="103.00" fill="white" stroke="#231f20" stroke-width="1.8" />
<rect x="339.00" y="1198.80" width="27.90" height="146.00" fill="#231f20" />
<line x1="418.00" y1="1226.10" x2="418.00" y2="1236.30" stroke="#231f20" stroke-width="1.8" stroke-linecap="butt" />
<line x1="411.50" y1="1226.10" x2="424.50" y2="1226.10" stroke="#231f20" stroke-width="1.8" stroke-linecap="butt" />
<line x1="456.85" y1="1215.00" x2="456.85" y2="1229.40" stroke="#231f20" stroke-width="1.8" stroke-linecap="butt" />
<line x1="450.35" y1="1215.00" x2="463.35" y2="1215.00" stroke="#231f20" stroke-width="1.8" stroke-linecap="butt" />
<rect x="405.20" y="1237.20" width="25.60" height="107.60" fill="white" stroke="#231f20" stroke-width="1.8" />
<rect x="442.90" y="1229.40" width="27.90" height="115.40" fill="#231f20" />
<line x1="521.80" y1="1285.80" x2="521.80" y2="1289.10" stroke="#231f20" stroke-width="1.8" stroke-linecap="butt" />
<line x1="515.30" y1="1285.80" x2="528.30" y2="1285.80" stroke="#231f20" stroke-width="1.8" stroke-linecap="butt" />
<line x1="560.65" y1="1150.00" x2="560.65" y2="1181.00" stroke="#231f20" stroke-width="1.8" stroke-linecap="butt" />
<line x1="554.15" y1="1150.00" x2="567.15" y2="1150.00" stroke="#231f20" stroke-width="1.8" stroke-linecap="butt" />
<rect x="509.00" y="1290.00" width="25.60" height="54.80" fill="white" stroke="#231f20" stroke-width="1.8" />
<rect x="546.70" y="1181.00" width="27.90" height="163.80" fill="#231f20" />
<text x="333.10" y="1370.70" font-size="19.6" text-anchor="middle" >Control</text>
<text x="436.00" y="1370.70" font-size="19.6" text-anchor="middle" >4-OHT</text>
<text x="539.80" y="1370.70" font-size="19.6" text-anchor="middle" >AM580</text>
<rect x="300.60" y="1139.20" width="8.00" height="10.60" fill="white" stroke="#231f20" stroke-width="1.8" />
<text x="314.20" y="1150.70" font-size="19.6" text-anchor="start" >MCF7</text>
<rect x="376.60" y="1137.00" width="11.00" height="14.00" fill="#231f20" />
<text x="392.40" y="1150.70" font-size="19.6" text-anchor="start" >LCC2</text>
<line x1="540.40" y1="1141.10" x2="563.80" y2="1141.10" stroke="#231f20" stroke-width="1.9" stroke-linecap="butt" />
<text x="550.80" y="1138.00" font-size="21" text-anchor="middle" >*</text>
<text x="211.40" y="1240.60" font-size="19.95" text-anchor="middle" transform="rotate(-90 211.40 1240.60)" >VEGF secretion</text>
<text x="234.70" y="1240.00" font-size="20.0" text-anchor="middle" transform="rotate(-90 234.70 1240.00)" >to MCF7</text>
</g>
</svg>
</body></html>
